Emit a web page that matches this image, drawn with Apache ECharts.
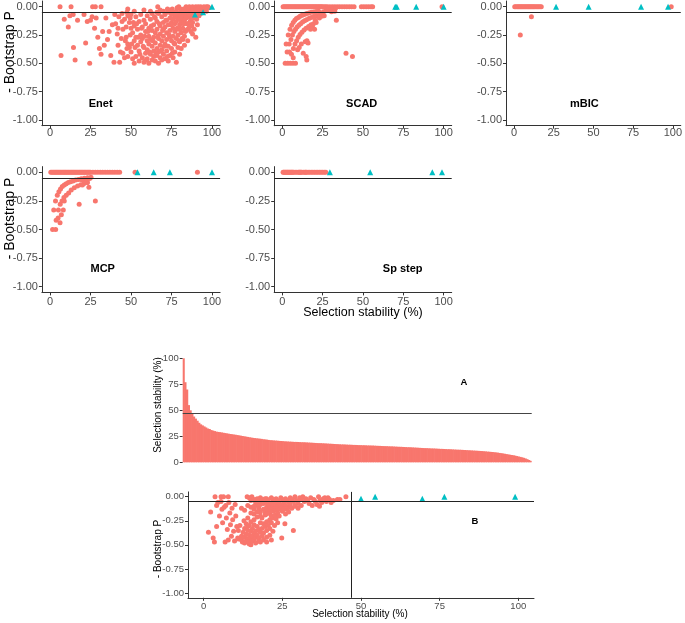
<!DOCTYPE html>
<html><head><meta charset="utf-8">
<script src="https://cdn.jsdelivr.net/npm/echarts@6/dist/echarts.min.js"></script>
<style>html,body{margin:0;padding:0;background:#fff}#c{width:685px;height:623px}</style>
</head><body><div id="c"></div>
<script>
const RED = '#F8766D', TEAL = '#00BFC4';
const xTicks = [0, 25, 50, 75, 100];
const yTicksP = [-1, -0.75, -0.5, -0.25, 0];
const yTicksA = [0, 25, 50, 75, 100];
const pThreshold = -0.05;
const stabThreshold = 47;

// ---- Enet ----
const enetRed = [
[6.2,0],[13,0],[26.3,0],[28,0],[31.5,0],[48,-0.02],[66.5,0],[79.5,0],[84,0],[86,0],[88,0],[90,0],[91.5,0],[93,0],[95,0],[96.5,0],[97.5,0],
[76,-0.05],[77,-0.08],[78,-0.04],[79,-0.1],[80,-0.06],[81,-0.03],[81.5,-0.09],[82,-0.12],[83,-0.05],[83.5,-0.07],[84,-0.1],[85,-0.03],[85.5,-0.06],[86,-0.09],[86.5,-0.13],[87,-0.04],[87.5,-0.07],[88,-0.02],[88.5,-0.1],[89,-0.05],[89.5,-0.08],[90,-0.03],[90.5,-0.11],[91,-0.06],[91.5,-0.02],[92,-0.08],[92.5,-0.04],[93,-0.06],[93.5,-0.02],[94,-0.04],[95,-0.03],[95.5,-0.01],[96,-0.02],[97,-0.01],[98,-0.01],[96.5,-0.04],[84.5,-0.15],[87.5,-0.17],[89,-0.2],[91,-0.16],[88,-0.24],[85,-0.2],[80.5,-0.02],[82.5,-0.02],[78.5,-0.01],[75.5,-0.02],[74,-0.03],[72.5,-0.02],[70,-0.04],[68,-0.03],[66,-0.05],[62,-0.04],[58,-0.03],[52,-0.04],
[6.8,-0.43],[8.8,-0.11],[11.3,-0.18],[12.3,-0.08],[14.3,-0.07],[14.5,-0.36],[15.5,-0.47],[17,-0.12],[21,-0.07],[22,-0.32],[23,-0.13],[24.5,-0.5],[25,-0.12],[26,-0.09],[27.5,-0.19],[28.5,-0.1],[29.5,-0.27],[30.5,-0.37],[31.5,-0.42],[32.5,-0.22],[33.5,-0.34],[34.5,-0.1],[35.5,-0.29],[36.5,-0.22],[37.5,-0.43],[38.5,-0.16],[39.5,-0.49],[40,-0.07],[40.5,-0.15],[41.5,-0.24],[42,-0.34],[42.5,-0.09],[43,-0.49],[44,-0.28],[44.5,-0.06],
[45,-0.2],[45,-0.41],[46,-0.11],[46,-0.45],[47,-0.27],[47,-0.18],[47.5,-0.05],[48,-0.33],[48,-0.08],[48,-0.44],[49,-0.14],[49,-0.36],[49.5,-0.1],
[50,-0.4],[50,-0.19],[50,-0.07],[51,-0.23],[51,-0.46],[52,-0.3],[52,-0.17],[52,-0.5],[53,-0.09],[53,-0.27],[53,-0.44],[54,-0.2],[54,-0.34],
[55,-0.13],[55,-0.39],[55,-0.48],[56,-0.25],[56,-0.31],[56,-0.07],[57,-0.18],[57,-0.45],[57,-0.28],[58,-0.36],[58,-0.12],[58,-0.49],[59,-0.22],[59,-0.41],[59,-0.15],
[60,-0.3],[60,-0.08],[60,-0.38],[60,-0.46],[61,-0.19],[61,-0.33],[61,-0.26],[61,-0.5],[62,-0.11],[62,-0.42],[62,-0.29],[63,-0.35],[63,-0.21],[63,-0.47],[63,-0.06],[64,-0.16],[64,-0.39],[64,-0.27],[64,-0.44],
[65,-0.32],[65,-0.1],[65,-0.48],[65,-0.23],[66,-0.2],[66,-0.37],[66,-0.43],[66,-0.13],[67,-0.28],[67,-0.06],[67,-0.4],[67,-0.5],[68,-0.17],[68,-0.34],[68,-0.45],[68,-0.24],[69,-0.09],[69,-0.3],[69,-0.38],[69,-0.47],
[70,-0.14],[70,-0.26],[70,-0.42],[70,-0.2],[71,-0.33],[71,-0.07],[71,-0.46],[71,-0.18],[72,-0.23],[72,-0.39],[72,-0.12],[72,-0.29],[73,-0.05],[73,-0.35],[73,-0.48],[73,-0.16],[74,-0.27],[74,-0.1],[74,-0.43],[74,-0.21],
[75,-0.37],[75,-0.14],[75,-0.07],[75,-0.3],[76,-0.19],[76,-0.45],[76,-0.26],[76,-0.11],[77,-0.33],[77,-0.15],[77,-0.4],[77,-0.22],[78,-0.09],[78,-0.28],[78,-0.49],[78,-0.13],[79,-0.2],[79,-0.36],[79,-0.06],[79,-0.25],
[80,-0.16],[80,-0.31],[80,-0.42],[80,-0.11],[81,-0.23],[81,-0.08],[81,-0.37],[81,-0.14],[82,-0.29],[82,-0.19],[82,-0.05],[83,-0.12],[83,-0.26],[83,-0.34],[84,-0.21],[84,-0.09],[85,-0.15],[85,-0.3],[86,-0.18],[86,-0.07],[87,-0.22],[87,-0.11],[88,-0.14],[90,-0.27],
[42,-0.19],[43.5,-0.4],[44.5,-0.13],[46.5,-0.3],[47.5,-0.37],[49.5,-0.25],[50.5,-0.33],[51.5,-0.14],[52.5,-0.36],[53.5,-0.15],[54.5,-0.27],[55.5,-0.42],[56.5,-0.19],[57.5,-0.35],[58.5,-0.26],[59.5,-0.47],[60.5,-0.22],[61.5,-0.4],[62.5,-0.17],[63.5,-0.3],[64.5,-0.09],[65.5,-0.41],[66.5,-0.26],[67.5,-0.15],[68.5,-0.39],[69.5,-0.21],[70.5,-0.35],[71.5,-0.12],[72.5,-0.44],[73.5,-0.25],[74.5,-0.16],[75.5,-0.41],[76.5,-0.32],[77.5,-0.07],[78.5,-0.19],[79.5,-0.3],[80.5,-0.2],[81.5,-0.28],[82.5,-0.15],[83.5,-0.22]
];
const enetTeal = [[100,0],[94.5,-0.05],[89.5,-0.07]];

// ---- SCAD ----
const scadRowX = [0.5,1.2,1.9,2.6,3.3,4,4.7,5.4,6.1,6.8,7.5,8.2,8.9,9.6,10.3,11,11.7,12.4,13.1,13.8,14.5,15.2,15.9,16.6,17.3,18,18.7,19.4,20.1,20.8,21.5,22.2,22.9,23.6,24.3,25,26,27,28,29.5,31,32.5,34,35.5,37,38.5,40,41.5,43,44.5,49,50.5,52,53.5,55,56,99];
const scadRed = [
[1.8,-0.5],[3.4,-0.5],[5,-0.5],[6.6,-0.5],[8.2,-0.5],
[2.4,-0.33],[3.7,-0.25],[4.8,-0.2],[5.8,-0.165],[6.8,-0.14],[7.8,-0.12],[8.8,-0.105],[10,-0.095],[11,-0.085],[12,-0.078],[13,-0.072],[14,-0.066],[15.2,-0.06],[16.5,-0.056],[18,-0.05],[19.5,-0.046],[21,-0.043],[22.5,-0.04],
[3,-0.4],[4.3,-0.33],[5.4,-0.29],[6.3,-0.25],[7.2,-0.22],[8.2,-0.2],[9.2,-0.18],[10.3,-0.165],[11.4,-0.15],[12.6,-0.135],[13.8,-0.125],[15,-0.115],[16.5,-0.105],[18,-0.095],[19.6,-0.087],[21.2,-0.08],[23,-0.074],[25,-0.068],
[4.5,-0.4],[5.7,-0.42],[6.9,-0.37],[7.9,-0.33],[8.9,-0.3],[9.9,-0.27],[11,-0.245],[12.2,-0.225],[13.5,-0.205],[14.8,-0.19],[16.3,-0.175],[17.8,-0.16],[19.3,-0.15],[21,-0.14],
[6.8,-0.45],[9.5,-0.38],[10.5,-0.36],[11.8,-0.33],[13,-0.41],[14.2,-0.31],[15.3,-0.3],[14.8,-0.44],[15.2,-0.47],[16,-0.32],[17.5,-0.2],[18.7,-0.18],[20,-0.2],[20.5,-0.12],[23,-0.1],[24.5,-0.085],[26,-0.08],
[25.5,-0.045],[27,-0.035],[28.5,-0.03],[30,-0.025],[31.5,-0.02],[33,-0.015],[30.5,-0.045],[32.5,-0.04],[33.5,-0.12],[39.5,-0.41],[43.5,-0.44]
];
const scadTeal = [[70,0],[71,0],[83,0],[100,0]];

// ---- mBIC ----
const mbicRowX = [0.5,1.2,2,2.7,3.4,4.1,4.8,5.5,6.2,6.9,7.6,8.3,9,9.7,10.4,11.1,11.8,12.5,13.2,14,14.8,15.6,16.4,17.2,99];
const mbicRed = [[4,-0.25],[11,-0.09]];
const mbicTeal = [[26.5,0],[47,0],[80,0],[97,0]];

// ---- MCP ----
const mcpRowX = [0.5,1.2,1.9,2.6,3.3,4,4.7,5.4,6.1,6.8,7.5,8.2,8.9,9.6,10.3,11,11.7,12.4,13.1,13.8,14.5,15.2,15.9,16.6,17.3,18,18.7,19.4,20.1,20.8,21.5,22.2,22.9,23.6,24.3,25,26.5,28,29.5,31,32.5,34,35.5,37,38.5,40,41.5,43,52.5,91];
const mcpRed = [
[1.6,-0.5],[3.5,-0.5],
[2.3,-0.33],[3.4,-0.25],[4.5,-0.2],[5.5,-0.17],[6.5,-0.145],[7.6,-0.125],[8.8,-0.11],[10,-0.1],[11.3,-0.09],[12.7,-0.082],[14.2,-0.075],[15.8,-0.068],[17.5,-0.062],[19.3,-0.057],[21.2,-0.052],[23.2,-0.048],[25.3,-0.044],
[3.8,-0.42],[5.2,-0.33],[6.3,-0.28],[7.4,-0.25],[8.6,-0.22],[10,-0.2],[11.5,-0.18],[13.1,-0.155],[15,-0.135],[17,-0.12],[19,-0.108],[21,-0.098],[23,-0.09],
[5,-0.4],[6.2,-0.44],[7,-0.37],[8.2,-0.33],[8.8,-0.25],[18,-0.28],[28,-0.25],[24,-0.13],[23,-0.09],[20,-0.11],[21.5,-0.075],[19.5,-0.065],[22.5,-0.06],[24.5,-0.055]
];
const mcpTeal = [[54,0],[64,0],[74,0],[100,0]];

// ---- Sp step ----
const spRowX = [0.5,1,1.5,2,2.5,3,3.5,4,4.5,5,5.5,6,6.5,7,8,9,10,10.5,11,11.5,12,13,14,14.5,15,16,17,18,19,20,21,22,23,24,25,26,27];
const spTeal = [[29.5,0],[54.5,0],[93,0],[99,0]];

// ---- Panel A: selection stability per variable (sorted) ----
const stability = [
100,77,70,55,50,47,44,42,40,38,
36.5,35.5,34.5,33.5,32.5,32,31,30.5,30,29.5,
29.2,29,28.7,28.4,28.1,27.8,27.5,27.2,27,26.7,
26.5,26.2,25.9,25.6,25.3,25,24.7,24.4,24.1,23.8,
23.5,23.3,23.1,22.9,22.7,22.5,22.2,22,21.8,21.5,
21.3,21.2,21,20.9,20.8,20.6,20.5,20.4,20.2,20.1,
20,19.9,19.8,19.7,19.6,19.6,19.5,19.4,19.3,19.3,
19.2,19.1,19,18.9,18.8,18.7,18.6,18.5,18.4,18.4,
18.3,18.2,18.1,18,17.9,17.8,17.7,17.6,17.5,17.4,
17.3,17.2,17.2,17.1,17,16.9,16.9,16.8,16.7,16.7,
16.6,16.5,16.5,16.4,16.4,16.3,16.2,16.2,16.1,16.1,
16,15.9,15.8,15.8,15.7,15.6,15.5,15.5,15.4,15.3,
15.3,15.2,15.1,15,14.9,14.9,14.8,14.7,14.6,14.5,
14.5,14.4,14.3,14.2,14.1,14,13.9,13.8,13.7,13.6,
13.6,13.5,13.4,13.3,13.3,13.2,13.1,13,12.9,12.9,
12.8,12.7,12.6,12.6,12.5,12.4,12.3,12.2,12.1,12.1,
12,11.9,11.8,11.7,11.6,11.5,11.4,11.3,11.2,11.1,
11,10.9,10.8,10.6,10.5,10.3,10.2,10,9.9,9.7,
9.5,9.3,9,8.8,8.5,8.2,7.9,7.6,7.3,7,
6.8,6.4,6,5.6,5.2,4.8,4.3,3.7,3,2.2,1.4
];

// ---- Panel B ----
const bRed = [
[3.6,0],[5.5,0],[6.3,0],[7.8,0],[13.8,0],[14.5,-0.01],[15.3,0],[18,-0.01],[20,-0.02],[21.5,-0.01],[23,-0.02],[24.5,-0.01],[26,-0.02],[27.5,-0.01],[29,0],[30.5,-0.01],[31.5,0],[32.5,-0.02],[34,-0.01],[36.5,0],[38.5,-0.01],[39.5,-0.01],[45.2,0],
[15,-0.04],[16,-0.03],[16.5,-0.06],[17,-0.02],[17.5,-0.05],[18.5,-0.03],[19,-0.06],[19.5,-0.02],[20.5,-0.04],[21,-0.07],[22,-0.03],[22.5,-0.05],[23.5,-0.04],[24,-0.07],[25,-0.03],[25.5,-0.05],[26.5,-0.04],[27,-0.06],[28,-0.03],[28.5,-0.05],[29.5,-0.04],[30,-0.07],[31,-0.03],[32,-0.05],[33,-0.04],[33.5,-0.07],[35,-0.03],[35.5,-0.05],[36,-0.08],[37,-0.04],[38,-0.02],[39,-0.05],[40,-0.03],[41.2,-0.04],[42.5,-0.03],[43.3,-0.03],[34.5,-0.09],[36.8,-0.1],[29,-0.1],[27,-0.11],[25,-0.12],[31,-0.09],[37.5,-0.06],[40.5,-0.06],
[1.5,-0.37],[3,-0.43],[3.4,-0.47],[2.2,-0.16],[4.1,-0.31],[4.1,-0.09],[4.5,-0.06],[5,-0.2],[5.5,-0.05],[5.8,-0.13],[6,-0.27],[6.5,-0.11],[6.8,-0.47],[7,-0.09],[7.2,-0.22],[7.5,-0.34],[7.8,-0.45],[8,-0.06],[8.3,-0.17],[8.5,-0.29],[8.8,-0.41],[9,-0.12],[9.2,-0.24],[9.5,-0.36],[9.8,-0.46],[10,-0.08],[10.2,-0.2],[10.5,-0.31],[10.8,-0.43],
[11,-0.35],[11,-0.44],[12,-0.12],[12,-0.41],[12.3,-0.47],[11.5,-0.3],[12.8,-0.25],[12.5,-0.37],[12,-0.45],
[13,-0.33],[13,-0.42],[13,-0.48],[13.5,-0.28],[13.5,-0.39],[13.5,-0.46],[14,-0.31],[14,-0.22],
[14,-0.35],[14,-0.44],[14.5,-0.49],[14.5,-0.4],[14.5,-0.47],[14.5,-0.3],[15,-0.26],[15,-0.17],
[15,-0.36],[15,-0.43],[15,-0.5],[15.5,-0.33],[15.5,-0.41],[15.5,-0.46],[16,-0.29],[16,-0.24],[16,-0.13],
[16,-0.38],[16,-0.45],[16.5,-0.36],[16.5,-0.42],[16.5,-0.48],[17,-0.31],[17,-0.21],[17,-0.09],
[17,-0.4],[17.5,-0.46],[17.5,-0.34],[17.5,-0.43],[18,-0.27],[18,-0.16],[18,-0.37],[18,-0.47],[18.5,-0.33],[18.5,-0.41],[18.5,-0.22],
[19,-0.28],[19,-0.38],[19,-0.45],[19.5,-0.31],[19.5,-0.19],[20,-0.26],[20,-0.35],[20,-0.42],[20.5,-0.3],[21,-0.24],[21,-0.33],[21.5,-0.27],[22,-0.22],[22.5,-0.3],
[13,-0.14],[14,-0.09],[15,-0.11],[16,-0.1],[16,-0.18],[17,-0.16],[17.5,-0.12],[18,-0.08],[18,-0.2],[19,-0.07],[19,-0.13],[19.5,-0.16],[20,-0.06],[20,-0.11],[20,-0.18],[20.5,-0.08],[20.5,-0.14],[21,-0.1],[21,-0.17],[21.5,-0.07],[21.5,-0.13],[21.5,-0.2],[22,-0.09],[22,-0.15],[22.5,-0.12],[22.7,-0.19],[23,-0.08],[23,-0.14],[23,-0.23],[23.5,-0.1],[23.5,-0.17],[24,-0.07],[24,-0.13],[24,-0.2],[24.5,-0.09],[25,-0.15],[25,-0.11],[25.5,-0.07],[26,-0.09],[26,-0.18],[26.5,-0.13],[27,-0.16],[27.5,-0.08],[28,-0.12],[29,-0.09],[30,-0.12],
[24.8,-0.43],[25.4,-0.13],[25.8,-0.28],[28.5,-0.35],[23.5,-0.27],[22,-0.36],[21,-0.4],[20,-0.47],[21.5,-0.45]
];
const bTeal = [[50,-0.02],[54.5,0],[69.5,-0.02],[76.5,0],[99,0]];

// ---------- build ----------
const FONT = '"Liberation Sans", Arial, sans-serif';
const grids = [
  {left:41.9, top:1, width:178.2, height:124.7},
  {left:274.2, top:1, width:177.5, height:124.7},
  {left:506, top:1, width:176.3, height:124.7},
  {left:41.9, top:166.6, width:178.2, height:125.8},
  {left:274.2, top:166.6, width:177.5, height:125.8},
  {left:182.7, top:358.3, width:349, height:104},
  {left:188, top:491.9, width:346, height:105.9}
];
const axLine = {onZero:false, lineStyle:{color:'#333', width:1}};
function xVal(gi, fs, mg) {
  return {type:'value', gridIndex:gi, min:-5, max:105,
    axisLine:axLine,
    axisTick:{show:true, length:3, lineStyle:{color:'#333'}, customValues:xTicks},
    axisLabel:{customValues:xTicks, color:'#4D4D4D', fontSize:fs, margin:mg, fontFamily:FONT},
    splitLine:{show:false}};
}
function yP(gi, fs) {
  return {type:'value', gridIndex:gi, min:-1.05, max:0.05,
    axisLine:axLine,
    axisTick:{show:true, length:3, lineStyle:{color:'#333'}, customValues:yTicksP},
    axisLabel:{customValues:yTicksP, color:'#4D4D4D', fontSize:fs, margin:4, fontFamily:FONT,
      formatter:v => (Math.abs(v) < 1e-9 ? 0 : v).toFixed(2)},
    splitLine:{show:false}};
}
const xAxes = [], yAxes = [];
for (let i = 0; i < 5; i++) { xAxes.push(xVal(i, 11, i < 3 ? 2 : 4)); yAxes.push(yP(i, 11)); }
xAxes.push({type:'category', gridIndex:5, data:stability.map((_, i) => i),
  axisLine:{show:false}, axisTick:{show:false}, axisLabel:{show:false}, splitLine:{show:false}});
yAxes.push({type:'value', gridIndex:5, min:0, max:100,
  axisLine:axLine,
  axisTick:{show:true, length:3, lineStyle:{color:'#333'}, customValues:yTicksA},
  axisLabel:{customValues:yTicksA, color:'#4D4D4D', fontSize:9.5, margin:4, fontFamily:FONT},
  splitLine:{show:false}});
xAxes.push(xVal(6, 9.5, 4));
yAxes.push(yP(6, 9.5));

const mlStyle = {color:'#222', width:1, type:'solid'};
function ml(data) {
  return {silent:true, symbol:['none','none'], label:{show:false}, lineStyle:mlStyle, data:data, animation:false};
}
function red(gi, data, lines) {
  const s = {type:'scatter', xAxisIndex:gi, yAxisIndex:gi, data:data, symbol:'circle', symbolSize:5,
    itemStyle:{color:RED, opacity:1}, silent:true, animation:false};
  if (lines) s.markLine = ml(lines);
  return s;
}
function teal(gi, data) {
  return {type:'scatter', xAxisIndex:gi, yAxisIndex:gi, data:data, symbol:'triangle', symbolSize:6,
    itemStyle:{color:TEAL, opacity:1}, silent:true, animation:false, z:3};
}
const row = xs => xs.map(x => [x, 0]);
const hl = [{yAxis:pThreshold}];
const series = [
  red(0, enetRed, hl), teal(0, enetTeal),
  red(1, row(scadRowX).concat(scadRed), hl), teal(1, scadTeal),
  red(2, row(mbicRowX).concat(mbicRed), hl), teal(2, mbicTeal),
  red(3, row(mcpRowX).concat(mcpRed), hl), teal(3, mcpTeal),
  red(4, row(spRowX), hl), teal(4, spTeal),
  {type:'bar', xAxisIndex:5, yAxisIndex:5, data:stability, barWidth:2.4,
    itemStyle:{color:RED}, silent:true, animation:false,
    markLine:{silent:true, symbol:['none','none'], label:{show:false}, lineStyle:{color:'#444', width:1.2, type:'solid'}, data:[{yAxis:stabThreshold}], animation:false}},
  red(6, bRed, [{yAxis:pThreshold}, {xAxis:stabThreshold}]), teal(6, bTeal)
];

function txt(x, y, s, font, rot) {
  return {type:'text', x:x, y:y, rotation:rot || 0, silent:true,
    style:{text:s, textAlign:'center', textVerticalAlign:'middle', font:font, fill:'#000'}};
}
const graphic = [
  txt(100.7, 103.5, 'Enet', 'bold 11px ' + FONT),
  txt(361.7, 103.5, 'SCAD', 'bold 11px ' + FONT),
  txt(584.3, 103.5, 'mBIC', 'bold 11px ' + FONT),
  txt(102.7, 269, 'MCP', 'bold 11px ' + FONT),
  txt(402.7, 268.5, 'Sp step', 'bold 11px ' + FONT),
  txt(10, 52, '- Bootstrap P', '14px ' + FONT, Math.PI / 2),
  txt(10, 218.5, '- Bootstrap P', '14px ' + FONT, Math.PI / 2),
  txt(363, 313, 'Selection stability (%)', '12.5px ' + FONT),
  txt(158, 405, 'Selection stability (%)', '10px ' + FONT, Math.PI / 2),
  txt(464, 382.5, 'A', 'bold 9.5px ' + FONT),
  txt(158, 549, '- Bootstrap P', '10px ' + FONT, Math.PI / 2),
  txt(475, 521.5, 'B', 'bold 9.5px ' + FONT),
  txt(360, 614, 'Selection stability (%)', '10px ' + FONT)
];

const chart = echarts.init(document.getElementById('c'), null, {renderer:'canvas'});
chart.setOption({
  animation:false,
  backgroundColor:'#fff',
  textStyle:{fontFamily:FONT},
  grid:grids,
  xAxis:xAxes,
  yAxis:yAxes,
  series:series,
  graphic:graphic
});
</script></body></html>
